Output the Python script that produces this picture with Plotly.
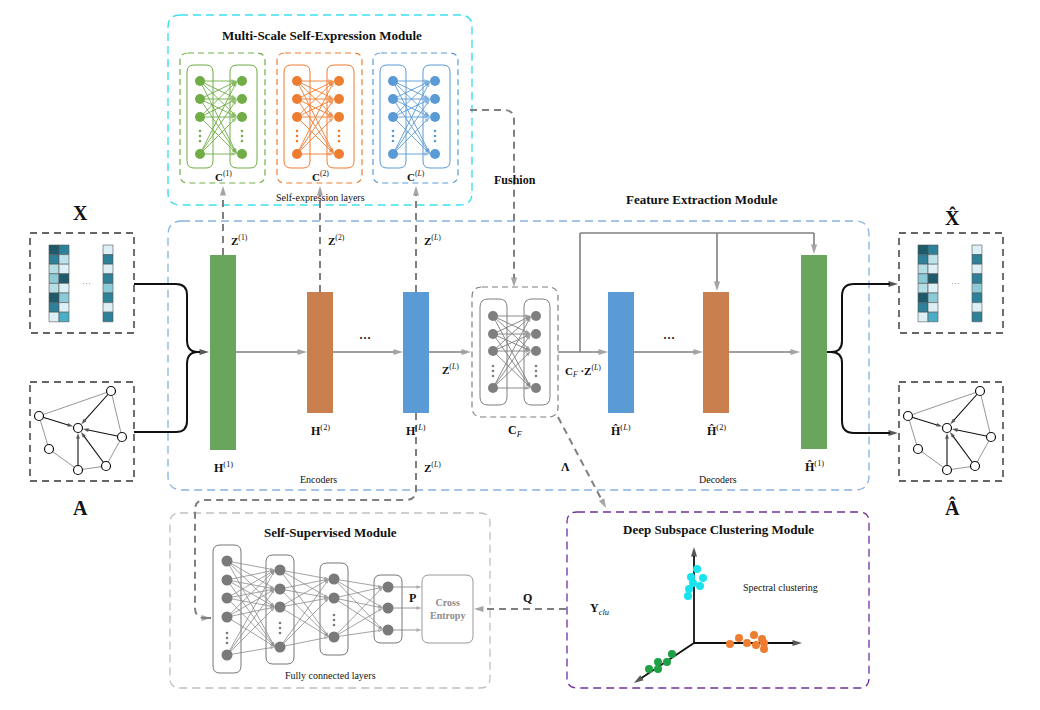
import plotly.graph_objects as go

# ---------------- data ----------------
# node-feature matrix (column by column, top to bottom)
matrix_shades = [
    ["#1e5a6c", "#2d8199", "#b5dde6", "#8ccad8", "#b5dde6", "#1e5a6c", "#2d8199", "#dcf0f5"],
    ["#2d8199", "#bde2ea", "#dcf0f5", "#1e5a6c", "#dcf0f5", "#8ccad8", "#dcf0f5", "#4aaec6"],
    ["#dcf0f5", "#2d8199", "#dcf0f5", "#2d8199", "#8ccad8", "#2d8199", "#dcf0f5", "#2d8199"],
]
matrix_col_x = [19, 29, 73]          # offsets inside the input box
# small graph A (offsets inside its box)
graph_x = [9, 81, 48, 92, 19, 76, 48]
graph_y = [34, 9, 46, 55, 67, 84, 88]
graph_rim = [(0, 1), (1, 3), (3, 5), (5, 6), (6, 4), (4, 0)]
graph_in = [0, 1, 3, 5, 6]           # arrows into node 2
input_boxes_x = [30, 899]

# self-expression modules
se_names = ["(1)", "(2)", "(<i>L</i>)"]
se_left = [180, 277, 373]
se_colors = ["#70ad47", "#ed7d31", "#5b9bd5"]
se_node_y = [81, 99, 117, 154]
se_dots_y = 136

# encoder / decoder bars
bar_labels = ["<b>H</b><sup>(1)</sup>", "<b>H</b><sup>(2)</sup>", "<b>H</b><sup>(<i>L</i>)</sup>",
              "<b>Ĥ</b><sup>(<i>L</i>)</sup>", "<b>Ĥ</b><sup>(2)</sup>", "<b>Ĥ</b><sup>(1)</sup>"]
bar_x = [223, 320, 416, 621, 716, 814]
bar_top = [255, 292, 292, 292, 292, 255]
bar_bottom = [450, 413, 413, 413, 413, 449]
bar_colors = ["#6aa55e", "#c97f4e", "#5b9bd5", "#5b9bd5", "#c97f4e", "#6aa55e"]
flow_y = 352

# C_F block
cf_node_y = [316, 334, 351, 388]
cf_dots_y = 371

# self-supervised fully connected layers
ss_x = [227, 280, 334, 388]
ss_nodes = [[561, 580, 598, 617, 655], [570, 589, 607, 647], [579, 598, 637], [587, 608, 630]]
ss_dots = [638, 628, 620, None]
ss_top = [545, 555, 563, 575]
ss_bottom = [673, 664, 655, 643]

# spectral clustering points
cyan_x = [697, 691, 703, 693, 700, 689, 688]
cyan_y = [569, 577, 578, 583, 586, 589, 596]
orange_x = [730, 739, 747, 754, 756, 762, 764, 764]
orange_y = [644, 638, 643, 635, 645, 639, 643, 649]
green_x = [672, 667, 658, 658, 649]
green_y = [654, 662, 662, 669, 669]

GRAY = "#7f7f7f"
fig = go.Figure()
shapes = []
annos = []


def rrect(x0, y0, x1, y1, r):
    return (f"M{x0 + r},{y0} L{x1 - r},{y0} Q{x1},{y0} {x1},{y0 + r} L{x1},{y1 - r} "
            f"Q{x1},{y1} {x1 - r},{y1} L{x0 + r},{y1} Q{x0},{y1} {x0},{y1 - r} "
            f"L{x0},{y0 + r} Q{x0},{y0} {x0 + r},{y0} Z")


def box(x0, y0, x1, y1, r, color, width=1.2, dash="solid", fill="rgba(0,0,0,0)"):
    shapes.append(dict(type="path", path=rrect(x0, y0, x1, y1, r), xref="x", yref="y",
                       line=dict(color=color, width=width, dash=dash), fillcolor=fill, layer="below"))


def path(p, color, width=1.5, dash="solid"):
    shapes.append(dict(type="path", path=p, xref="x", yref="y",
                       line=dict(color=color, width=width, dash=dash)))


def segs(pairs, color, width=1.0, head=0, dash="solid"):
    xs, ys, sz = [], [], []
    for (a, b) in pairs:
        xs += [a[0], b[0], None]
        ys += [a[1], b[1], None]
        sz += [0, head, 0]
    fig.add_trace(go.Scatter(x=xs, y=ys, mode="lines+markers" if head else "lines",
                             line=dict(color=color, width=width, dash=dash),
                             marker=dict(symbol="arrow", size=sz, angleref="previous", color=color,
                                         line=dict(width=0)),
                             hoverinfo="skip", showlegend=False))


def poly(xs, ys, color, width=1.5, head=10, dash="solid"):
    sz = [0] * (len(xs) - 1) + [head]
    fig.add_trace(go.Scatter(x=xs, y=ys, mode="lines+markers",
                             line=dict(color=color, width=width, dash=dash),
                             marker=dict(symbol="arrow", size=sz, angleref="previous", color=color,
                                         line=dict(width=0)),
                             hoverinfo="skip", showlegend=False))


def dots(xs, ys, color, size=10, outline=None):
    fig.add_trace(go.Scatter(x=xs, y=ys, mode="markers",
                             marker=dict(size=size, color=color,
                                         line=dict(width=1.2 if outline else 0, color=outline or color)),
                             hoverinfo="skip", showlegend=False))


def vdots(x, y, color):
    dots([x, x, x], [y - 5, y, y + 5], color, size=2.6)


def txt(x, y, s, size=11, color="#111111"):
    annos.append(dict(x=x, y=y, text=s, showarrow=False, xref="x", yref="y",
                      font=dict(size=size, color=color)))


def bipartite(lx, rx, ys, dy, color, nodesize=10):
    pairs = []
    for a in ys:
        for b in ys:
            pairs.append(((lx, a), (rx - 5, b)))
    segs(pairs, color, width=0.9, head=6)
    dots([lx] * len(ys), ys, color, nodesize)
    dots([rx] * len(ys), ys, color, nodesize)
    vdots(lx, dy, color)
    vdots(rx, dy, color)


# ---------------- module frames ----------------
box(168, 15, 472, 205, 12, "#3ee0ee", 1.4, "8px,5px")
box(168, 221, 869, 490, 14, "#86b3df", 1.3, "8px,5px")
box(170, 513, 490, 688, 10, "#c0c0c0", 1.3, "8px,5px")
box(567, 512, 869, 688, 10, "#7030a0", 1.3, "8px,5px")

# ---------------- self-expression layers ----------------
for name, x0, col in zip(se_names, se_left, se_colors):
    box(x0, 53, x0 + 85, 183, 8, col, 1.2, "6px,4px")
    box(x0 + 7, 65, x0 + 33, 168, 7, col, 1.0)
    box(x0 + 50, 65, x0 + 77, 168, 7, col, 1.0)
    bipartite(x0 + 20, x0 + 62, se_node_y, se_dots_y, col)
    txt(x0 + 43, 176, f"<b>C</b><sup>{name}</sup>", 11)
txt(322, 35, "<b>Multi-Scale Self-Expression Module</b>", 13)
txt(320, 197, "Self-expression layers", 10)

# ---------------- inputs / outputs ----------------
for i, bx in enumerate(input_boxes_x):
    shapes.append(dict(type="rect", x0=bx, x1=bx + 104, y0=233, y1=333,
                       line=dict(color="#333333", width=1.4, dash="7px,5px")))
    shapes.append(dict(type="rect", x0=bx, x1=bx + 104, y0=382, y1=481,
                       line=dict(color="#333333", width=1.4, dash="7px,5px")))
    for cx, shades in zip(matrix_col_x, matrix_shades):
        for r, c in enumerate(shades):
            shapes.append(dict(type="rect", x0=bx + cx, x1=bx + cx + 10,
                               y0=245 + r * 9.6, y1=245 + (r + 1) * 9.6,
                               fillcolor=c, line=dict(color="#555555", width=0.6)))
    txt(bx + 56, 283, "···", 9, "#666666")
    gx = [bx + v for v in graph_x]
    gy = [382 + v for v in graph_y]
    segs([((gx[a], gy[a]), (gx[b], gy[b])) for a, b in graph_rim], "#8a8a8a", 0.9)
    pairs = []
    for a in graph_in:
        dx, dy = gx[2] - gx[a], gy[2] - gy[a]
        d = (dx * dx + dy * dy) ** 0.5
        pairs.append(((gx[a], gy[a]), (gx[2] - dx / d * 5, gy[2] - dy / d * 5)))
    segs(pairs, "#111111", 1.1, head=6)
    dots(gx, gy, "white", 9, outline="#111111")

txt(80, 213, "<b>X</b>", 20)
txt(80, 508, "<b>A</b>", 20)
txt(952, 217, "<b>X̂</b>", 20)
txt(952, 507, "<b>Â</b>", 20)

# braces into H(1) and out of Ĥ(1)
path("M134,284 L176,284 Q187,284 187,295 L187,340 Q187,352 198,352", "#111111", 2)
path("M134,432 L176,432 Q187,432 187,421 L187,364 Q187,352 198,352", "#111111", 2)
poly([196, 209], [flow_y, flow_y], "#111111", 2, 10)
path("M827,352 L831,352 Q842,352 842,341 L842,296 Q842,284 854,284 L890,284", "#111111", 2)
path("M831,352 Q842,352 842,363 L842,421 Q842,433 854,433 L890,433", "#111111", 2)
poly([885, 898], [284, 284], "#111111", 2, 10)
poly([885, 898], [433, 433], "#111111", 2, 10)

# ---------------- encoder / decoder ----------------
for x, t, b, c in zip(bar_x, bar_top, bar_bottom, bar_colors):
    shapes.append(dict(type="rect", x0=x - 13, x1=x + 13, y0=t, y1=b, fillcolor=c,
                       line=dict(width=0)))
for lab, x, b in zip(bar_labels, bar_x, bar_bottom):
    txt(x, b + 17, lab, 12)

flow = [(236, 307), (333, 403), (429, 471), (558, 608), (634, 703), (729, 800)]
for a, b in flow:
    poly([a, b], [flow_y, flow_y], GRAY, 1.6, 10)
txt(365, 338, "<b>···</b>", 12)
txt(669, 338, "<b>···</b>", 12)

# skip connections from C_F·Z(L)
poly([580, 580, 814, 814], [flow_y, 233, 233, 254], GRAY, 1.6, 10)
poly([717, 717], [233, 291], GRAY, 1.6, 10)

# C_F block
box(472, 287, 558, 417, 10, GRAY, 1.2, "6px,4px")
box(480, 299, 507, 405, 8, GRAY, 1.0)
box(524, 299, 550, 405, 8, GRAY, 1.0)
bipartite(493, 536, cf_node_y, cf_dots_y, GRAY)
txt(515, 431, "<b>C</b><sub><i>F</i></sub>", 12)
txt(450, 369, "<b>Z</b><sup>(<i>L</i>)</sup>", 11)
txt(583, 371, "<b>C</b><sub><i>F</i></sub> <b>·Z</b><sup>(<i>L</i>)</sup>", 11)
txt(318, 479, "Encoders", 10)
txt(718, 479, "Decoders", 10)
txt(702, 199, "<b>Feature Extraction Module</b>", 13)

# dashed links into the self-expression layers
for x, lab in zip(bar_x[:3], ["(1)", "(2)", "(<i>L</i>)"]):
    top = bar_top[bar_x.index(x)]
    poly([x, x], [top, 186], GRAY, 2, 10, "7px,5px")
    txt(x + 16, 240, f"<b>Z</b><sup>{lab}</sup>", 11)

# fusion
path("M470,110 L504,110 Q514,110 514,120 L514,276", GRAY, 2, "7px,5px")
poly([514, 514], [276, 287], GRAY, 2, 10)
txt(515, 180, "<b>Fushion</b>", 12)

# Z(L) down to self-supervised module
path("M416,413 L416,490 Q416,500 406,500 L205,500 Q195,500 195,510 L195,608 Q195,618 205,618",
     GRAY, 2, "7px,5px")
poly([203, 211], [618, 618], GRAY, 2, 10)
txt(432, 467, "<b>Z</b><sup>(<i>L</i>)</sup>", 11)

# Lambda to clustering
poly([558, 606], [417, 508], GRAY, 2, 10, "7px,5px")
txt(565, 467, "<b>Λ</b>", 12)

# ---------------- self-supervised module ----------------
for x, t, b in zip(ss_x, ss_top, ss_bottom):
    box(x - 14, t, x + 14, b, 7, "#777777", 1.0)
pairs = []
for i in range(len(ss_x) - 1):
    for a in ss_nodes[i]:
        for b in ss_nodes[i + 1]:
            pairs.append(((ss_x[i], a), (ss_x[i + 1] - 5, b)))
segs(pairs, "#8c8c8c", 0.8, head=5)
segs([((ss_x[3], y), (422, y)) for y in ss_nodes[3]], "#8c8c8c", 0.9, head=6)
for x, ys, d in zip(ss_x, ss_nodes, ss_dots):
    dots([x] * len(ys), ys, "#7a7a7a", 11)
    if d:
        vdots(x, d, "#7a7a7a")
box(422, 575, 473, 643, 7, "#9a9a9a", 1.0)
txt(447, 609, "<b>Cross<br>Entropy</b>", 10, "#8c8c8c")
txt(412, 598, "<b>P</b>", 12)
txt(330, 532, "<b>Self-Supervised Module</b>", 13)
txt(330, 675, "Fully connected layers", 10)

# Q link
poly([566, 474], [609, 609], GRAY, 2, 10, "7px,5px")
txt(527, 598, "<b>Q</b>", 12)
txt(599, 609, "<b>Y</b><sub><i>clu</i></sub>", 12)

# ---------------- deep subspace clustering ----------------
poly([694, 694], [643, 547], "#111111", 1.8, 10)
poly([694, 802], [643, 643], "#111111", 1.8, 10)
poly([694, 634], [643, 683], "#111111", 1.8, 10)
dots(cyan_x, cyan_y, "#19e3ef", 8)
dots(orange_x, orange_y, "#ed7d31", 8)
dots(green_x, green_y, "#1fa044", 8)
txt(718, 529, "<b>Deep Subspace Clustering Module</b>", 13)
txt(780, 587, "Spectral clustering", 10)

fig.update_layout(
    width=1040, height=710, margin=dict(l=0, r=0, t=0, b=0),
    paper_bgcolor="white", plot_bgcolor="white",
    font=dict(family="Liberation Serif", color="#111111"),
    xaxis=dict(range=[0, 1040], visible=False, fixedrange=True),
    yaxis=dict(range=[710, 0], visible=False, fixedrange=True),
    shapes=shapes, annotations=annos, showlegend=False,
)

fig.write_html("out.html", config={"displayModeBar": False},
               post_script="document.body.style.margin='0px';")
